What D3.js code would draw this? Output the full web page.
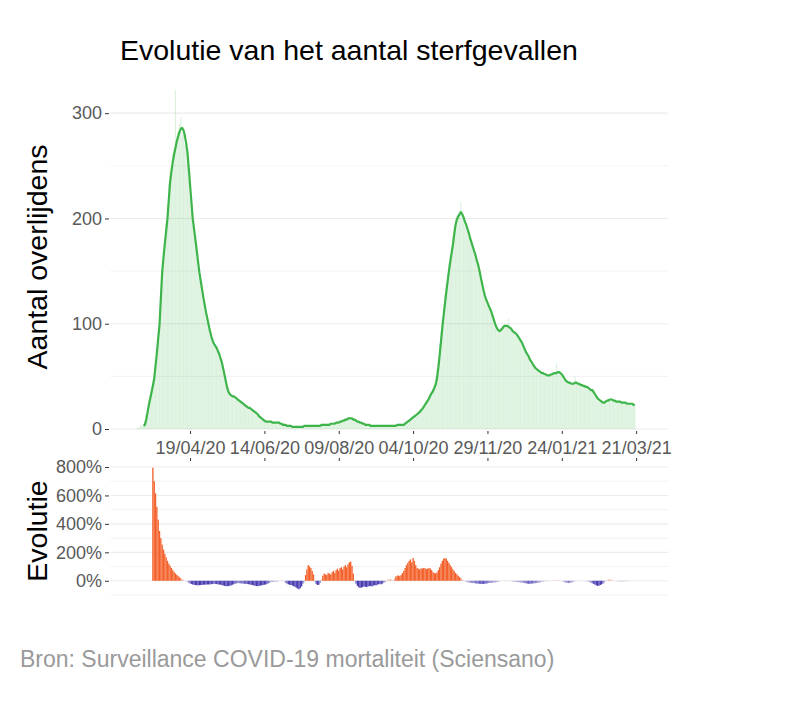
<!DOCTYPE html>
<html>
<head>
<meta charset="utf-8">
<script src="https://cdn.jsdelivr.net/npm/d3@7"></script>
<style>
  body { margin: 0; background: #fff; }
  text { font-family: "Liberation Sans", Arial, sans-serif; }
</style>
</head>
<body>
<script>
// daily deaths (bars), starting 10/03/2020
const deathsStart = "2020-03-10";
const deaths = [
  1, 1, 2, 3, 3, 5, 8, 14, 18, 27, 31, 36, 44, 52, 63, 75, 90, 104, 128, 152, 170, 181,
  196, 214, 232, 245, 251, 262, 268, 322, 276, 283, 290, 296, 281, 279, 270, 266, 252, 238, 219, 205, 193, 183, 174, 163, 152, 144, 136, 127, 120, 112,
  106, 101, 95, 90, 86, 82, 79, 78, 75, 72, 68, 64, 59, 53, 47, 41, 36, 33, 32, 31, 30, 31, 29, 28, 27, 26, 25, 24, 23, 22, 21,
  22, 19, 21, 18, 17, 18, 15, 14, 13, 11, 12, 9, 8, 8, 6, 7, 8, 6, 7, 5, 6, 7, 5, 6, 6, 4, 5, 4, 3, 4,
  3, 4, 2, 3, 2, 1, 2, 3, 2, 1, 2, 2, 3, 3, 4, 2, 3, 4, 3, 2, 3, 4, 3, 2, 3, 4, 4, 5, 3, 4, 5,
  4, 5, 5, 6, 4, 6, 6, 7, 5, 8, 7, 8, 9, 10, 9, 11, 10, 11, 9, 10, 8, 8, 7, 6, 6, 5, 5, 4, 4, 3, 4,
  3, 3, 4, 2, 3, 3, 4, 3, 2, 3, 3, 4, 3, 2, 3, 3, 4, 3, 3, 4, 3, 4, 5, 4, 4, 5, 5, 6, 7, 8,
  9, 10, 11, 12, 13, 14, 15, 17, 18, 19, 21, 23, 25, 27, 29, 31, 34, 36, 39, 43, 50, 57, 67, 80, 93, 105, 116, 128, 139, 148, 157,
  166, 174, 184, 193, 199, 203, 205, 207, 216, 200, 198, 194, 191, 187, 183, 178, 174, 170, 166, 161, 157, 151, 146, 150, 134, 129, 124, 121, 118, 114,
  111, 108, 104, 100, 96, 94, 92, 93, 96, 97, 99, 100, 98, 97, 105, 95, 93, 92, 91, 90, 88, 86, 84, 82, 80, 76, 73, 71, 69, 67, 64,
  62, 60, 58, 57, 56, 55, 54, 53, 52, 53, 51, 52, 50, 51, 52, 53, 52, 54, 53, 62, 54, 53, 52, 50, 48, 46, 45, 44, 43, 44, 42,
  43, 44, 50, 44, 42, 43, 41, 42, 40, 41, 39, 40, 38, 37, 36, 36, 33, 31, 29, 27, 26, 26, 25, 24, 25, 27, 28, 27,
  29, 28, 27, 27, 26, 26, 25, 27, 26, 25, 24, 26, 25, 24, 23, 25, 24, 23, 22, 23
];

// 7-day average (line), starting 15/03/2020
const avgStart = "2020-03-15";
const avg7 = [
  3, 4, 9, 16, 23, 29, 35, 41, 48, 60, 72, 86, 99, 124, 149, 163, 176,
  188, 200, 218, 235, 245, 254, 261, 267, 273, 278, 282, 285, 286, 284, 279, 272, 263, 248, 232, 216, 200, 190, 180, 170, 159, 149, 141, 133, 125, 118,
  111, 105, 99, 93, 88, 84, 81, 79, 77, 74, 71, 67, 63, 57, 51, 45, 39, 35, 33, 32, 31, 31, 30, 29, 28, 27, 26, 25, 24, 23, 22,
  21, 20, 20, 19, 18, 17, 16, 15, 14, 12, 11, 10, 9, 8, 7, 7, 7, 7, 7, 6, 6, 6, 6, 6, 6, 5, 5, 4, 4, 4,
  3, 3, 3, 3, 2, 2, 2, 2, 2, 2, 2, 2, 2, 3, 3, 3, 3, 3, 3, 3, 3, 3, 3, 3, 3, 3, 4, 4, 4, 4, 4,
  4, 4, 5, 5, 5, 5, 6, 6, 6, 7, 7, 8, 8, 9, 9, 10, 10, 10, 10, 9, 9, 8, 7, 7, 6, 6, 5, 5, 4, 4, 4,
  4, 3, 3, 3, 3, 3, 3, 3, 3, 3, 3, 3, 3, 3, 3, 3, 3, 3, 3, 3, 3, 4, 4, 4, 4, 4, 4, 5, 6, 7,
  8, 9, 10, 11, 12, 13, 14, 15, 16, 18, 19, 21, 23, 25, 27, 29, 32, 34, 36, 39, 42, 48, 58, 70, 83, 96, 108, 119, 130, 140, 150,
  159, 167, 175, 185, 194, 199, 202, 204, 206, 204, 201, 197, 194, 190, 186, 181, 177, 173, 169, 165, 160, 156, 150, 144, 138, 132, 127, 123, 120, 117,
  114, 111, 107, 103, 99, 96, 94, 93, 94, 95, 97, 98, 98, 98, 97, 96, 95, 93, 92, 91, 90, 88, 86, 84, 82, 79, 76, 73, 71, 69, 66,
  64, 62, 60, 58, 57, 56, 55, 54, 53, 53, 52, 52, 51, 51, 51, 52, 52, 53, 53, 53, 54, 54, 53, 52, 50, 48, 46, 45, 44, 44, 43,
  43, 43, 44, 44, 43, 43, 42, 42, 41, 41, 40, 40, 39, 38, 37, 37, 35, 33, 31, 29, 28, 27, 26, 25, 25, 26, 27, 27,
  28, 28, 28, 27, 27, 26, 26, 26, 26, 25, 25, 25, 25, 24, 24, 24, 24, 24, 23, 23
];

// evolution in %, starting 22/03/2020
const evoStart = "2020-03-22";
const evolution = [
  795, 700, 615, 520, 430, 350, 300, 255, 220, 190,
  165, 140, 120, 105, 90, 75, 62, 52, 42, 33, 25, 18, 12, 7, 3, -2, -8, -14, -19, -23, -26, -28, -30, -31, -32, -31, -30, -29, -28, -27,
  -27, -26, -26, -25, -24, -22, -21, -22, -23, -25, -26, -28, -30, -33, -36, -38, -38, -37, -35, -32, -28, -24, -20, -18, -17, -17, -18, -19, -20, -21, -22,
  -23, -24, -26, -28, -30, -33, -35, -37, -38, -36, -34, -32, -30, -28, -26, -22, -18, -14, -10, -9, -8, -8, -7, -6, -2, 2, 6, 4, -5, -15,
  -20, -25, -28, -30, -33, -38, -42, -48, -55, -60, -52, -40, -20, -8, 40, 80, 110, 100, 90, 70, 45, -8, -22, -30, -28, -15, 10, 35, 50, 45, 40,
  55, 50, 45, 60, 70, 55, 75, 85, 70, 90, 95, 80, 100, 110, 95, 115, 130, 135, 105, 50, 5, -20, -35, -45, -50, -48, -44, -40, -42, -45, -40,
  -38, -36, -40, -35, -30, -33, -28, -25, -22, -25, -20, -15, -10, 5, 10, 8, 12, 6, 2, 15, 30, 35, 38, 32, 40, 55, 70, 90, 110, 125,
  140, 150, 130, 160, 140, 110, 90, 85, 80, 88, 85, 90, 88, 82, 86, 90, 85, 75, 60, 55, 52, 58, 75, 95, 120, 140, 155, 160, 155, 140, 125,
  110, 95, 80, 68, 55, 45, 35, 26, 18, 10, 4, -3, -8, -10, -12, -14, -15, -16, -17, -18, -20, -20, -21, -22, -23, -22, -21, -20, -18, -16,
  -15, -14, -13, -12, -11, -10, -8, -5, -3, -1, 2, 4, 5, 3, 1, -2, -4, -6, -7, -8, -9, -10, -11, -12, -13, -14, -16, -18, -20, -21, -21,
  -20, -19, -18, -17, -15, -14, -12, -10, -8, -7, -5, -4, -3, -2, -1, 1, 2, 3, 4, 5, 6, 4, 2, -2, -6, -10, -13, -15, -16, -15, -13,
  -10, -7, -4, -2, 1, 2, 3, 2, -1, -3, -4, -5, -7, -10, -14, -18, -22, -27, -32, -36, -35, -30, -25, -20, -12, -4, 5, 9,
  10, 8, 6, 3, -1, -3, -4, -5, -5, -6, -5, -5, -4, -4, -3, -3
];

const xTickDates = ["2020-04-19", "2020-06-14", "2020-08-09", "2020-10-04", "2020-11-29", "2021-01-24", "2021-03-21"];
const yTicksTop = [0, 100, 200, 300];
const yMinorTop = [50, 150, 250];
const yTicksBottom = [0, 200, 400, 600, 800];
const yMinorBottom = [-100, 100, 300, 500, 700];

const parse = d3.utcParse("%Y-%m-%d");
const series = (start, values) => values.map((v, i) => ({ date: d3.utcDay.offset(parse(start), i), value: v }));
const deathData = series(deathsStart, deaths);
const avgData = series(avgStart, avg7);
const evoData = series(evoStart, evolution);

const w = 800;
const h = 706;
const left = 110.4, right = 668;

const svg = d3.select("body").append("svg").attr("width", w).attr("height", h);

const x = d3.scaleUtc()
  .domain([parse("2020-02-19"), parse("2021-04-14")])
  .range([left, right]);
const dayW = x(parse("2020-01-02")) - x(parse("2020-01-01"));

const yTop = d3.scaleLinear().domain([0, 322]).range([429, 90]);
const yBot = d3.scaleLinear().domain([-100, 800]).range([595, 467]);

const green = "#3db54a";
const evoColor = d3.scaleLinear()
  .domain([-25, 0, 25])
  .range(["#4a3fb2", "#f4f4f8", "#f4602a"])
  .clamp(true);

// grid lines
function grid(scale, values, width) {
  svg.append("g")
    .selectAll("line")
    .data(values)
    .join("line")
    .attr("x1", left).attr("x2", right)
    .attr("y1", d => scale(d)).attr("y2", d => scale(d))
    .attr("stroke", "#ebebeb")
    .attr("stroke-width", width);
}
grid(yTop, yMinorTop, 0.6);
grid(yTop, yTicksTop, 1.1);
grid(yBot, yMinorBottom, 0.6);
grid(yBot, yTicksBottom, 1.1);

// daily bars
svg.append("g")
  .selectAll("rect")
  .data(deathData)
  .join("rect")
  .attr("x", d => x(d.date) - dayW * 0.45)
  .attr("width", dayW * 0.9)
  .attr("y", d => yTop(d.value))
  .attr("height", d => yTop(0) - yTop(d.value))
  .attr("fill", green)
  .attr("fill-opacity", 0.18);

// 7-day average line
svg.append("path")
  .datum(avgData)
  .attr("fill", "none")
  .attr("stroke", green)
  .attr("stroke-width", 2.2)
  .attr("stroke-linejoin", "round")
  .attr("d", d3.line().x(d => x(d.date)).y(d => yTop(d.value)));

// evolution bars
svg.append("g")
  .selectAll("rect")
  .data(evoData)
  .join("rect")
  .attr("x", d => x(d.date) - dayW / 2)
  .attr("width", dayW)
  .attr("y", d => yBot(Math.max(0, d.value)))
  .attr("height", d => Math.abs(yBot(d.value) - yBot(0)))
  .attr("fill", d => evoColor(d.value));

// axes
const fmt = d3.utcFormat("%d/%m/%y");
const tickDates = xTickDates.map(parse);

function styleAxis(g) {
  g.select(".domain").remove();
  g.selectAll(".tick line").attr("stroke", "#333");
  g.selectAll(".tick text")
    .attr("fill", "#595959")
    .style("font-size", "18px")
    .style("font-family", "'Liberation Sans', Arial, sans-serif");
}

svg.append("g")
  .attr("transform", "translate(0,431)")
  .call(d3.axisBottom(x).tickValues(tickDates).tickFormat(fmt).tickSize(3).tickPadding(7))
  .call(styleAxis);

svg.append("g")
  .attr("transform", "translate(0,461)")
  .call(d3.axisTop(x).tickValues(tickDates).tickFormat("").tickSize(3))
  .call(styleAxis);

svg.append("g")
  .attr("transform", "translate(109,0)")
  .call(d3.axisLeft(yTop).tickValues(yTicksTop).tickSize(4).tickPadding(3))
  .call(styleAxis);

svg.append("g")
  .attr("transform", "translate(109,0)")
  .call(d3.axisLeft(yBot).tickValues(yTicksBottom).tickFormat(d => d + "%").tickSize(4).tickPadding(3))
  .call(styleAxis);

// titles
svg.append("text")
  .attr("x", 120).attr("y", 60)
  .attr("fill", "#000")
  .style("font-size", "28.5px")
  .text("Evolutie van het aantal sterfgevallen");

svg.append("text")
  .attr("transform", "translate(47,257) rotate(-90)")
  .attr("text-anchor", "middle")
  .attr("fill", "#000")
  .style("font-size", "28.5px")
  .text("Aantal overlijdens");

svg.append("text")
  .attr("transform", "translate(47,531) rotate(-90)")
  .attr("text-anchor", "middle")
  .attr("fill", "#000")
  .style("font-size", "28.5px")
  .text("Evolutie");

svg.append("text")
  .attr("x", 20).attr("y", 667)
  .attr("fill", "#9a9a9a")
  .style("font-size", "23px")
  .text("Bron: Surveillance COVID-19 mortaliteit (Sciensano)");
</script>
</body>
</html>
